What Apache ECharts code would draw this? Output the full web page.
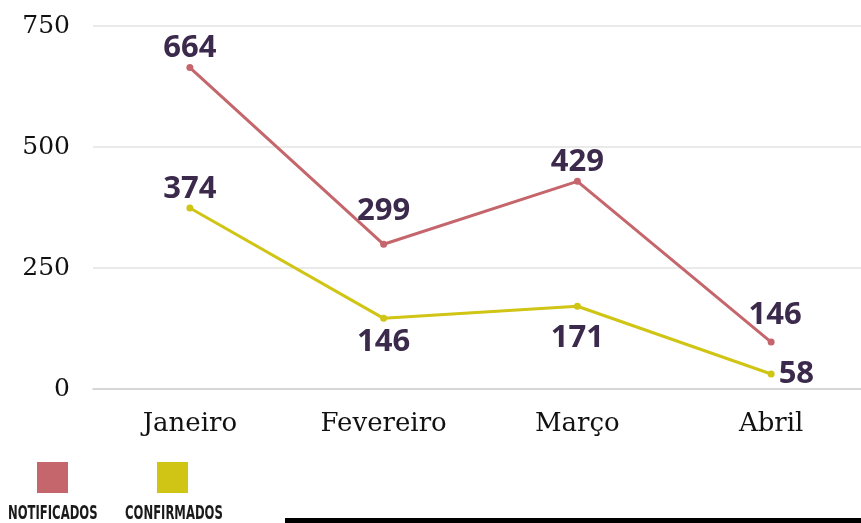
<!DOCTYPE html>
<html>
<head>
<meta charset="utf-8">
<script src="https://cdn.jsdelivr.net/npm/echarts@6/dist/echarts.min.js"></script>
<style>html,body{margin:0;padding:0;background:#fff;overflow:hidden;width:861px;height:523px}#c{width:868px;height:523px}</style>
</head>
<body>
<div id="c"></div>
<script>
const categories = ['Janeiro', 'Fevereiro', 'Março', 'Abril'];
const notificados = [664, 299, 429, 97];
const confirmados = [374, 146, 171, 31];
const notificadosLabels = ['664', '299', '429', '146'];
const confirmadosLabels = ['374', '146', '171', '58'];
const yTicks = [0, 250, 500, 750];

const RED = '#c25b63';
const YELLOW = '#d2bd00';
const LABEL = '#3b2a4b';

const labelBase = { show: true, color: LABEL, fontFamily: 'Open Sans', fontWeight: 'bold', fontSize: 31 };
const notifLabelCfg = [
  { position: 'top', distance: 0 },
  { position: 'top', distance: 14 },
  { position: 'top', distance: 0 },
  { position: 'top', distance: 8, offset: [4, 0] }
];
const confLabelCfg = [
  { position: 'top', distance: 0 },
  { position: 'bottom', distance: 5 },
  { position: 'bottom', distance: 13 },
  { position: 'right', distance: 4 }
];

function buildData(values, labels, cfg) {
  return values.map((v, i) => ({
    value: v,
    label: Object.assign({}, labelBase, cfg[i], { formatter: () => labels[i] })
  }));
}

const chart = echarts.init(document.getElementById('c'));
chart.setOption({
  animation: false,
  grid: { left: 93, top: 26, right: 0, bottom: 134, containLabel: false },
  xAxis: {
    type: 'category',
    data: categories,
    boundaryGap: true,
    axisLine: { show: true, lineStyle: { color: '#cfcfcf', width: 1.5 } },
    axisTick: { show: false },
    axisLabel: { color: '#111', fontFamily: 'DejaVu Serif', fontSize: 26, margin: 22 }
  },
  yAxis: {
    type: 'value',
    min: yTicks[0],
    max: yTicks[yTicks.length - 1],
    interval: yTicks[1] - yTicks[0],
    axisLine: { show: false },
    axisTick: { show: false },
    splitLine: { lineStyle: { color: '#e3e3e3', width: 1.5 } },
    axisLabel: { color: '#111', fontFamily: 'DejaVu Serif', fontSize: 25, margin: 23 }
  },
  legend: [
    { data: ['NOTIFICADOS'], left: 37, top: 462, padding: 0, itemWidth: 31, itemHeight: 31, icon: 'rect', itemStyle: { borderRadius: 3 }, formatter: () => '' },
    { data: ['CONFIRMADOS'], left: 157, top: 462, padding: 0, itemWidth: 31, itemHeight: 31, icon: 'rect', itemStyle: { borderRadius: 3 }, formatter: () => '' }
  ],
  series: [
    {
      name: 'NOTIFICADOS', type: 'line',
      data: buildData(notificados, notificadosLabels, notifLabelCfg),
      color: RED,
      lineStyle: { color: '#c4666c', width: 3 },
      symbol: 'circle', symbolSize: 7,
      itemStyle: { color: '#c4666c' }
    },
    {
      name: 'CONFIRMADOS', type: 'line',
      data: buildData(confirmados, confirmadosLabels, confLabelCfg),
      color: YELLOW,
      lineStyle: { color: '#d0c414', width: 3 },
      symbol: 'circle', symbolSize: 7,
      itemStyle: { color: '#d0c414' }
    }
  ],
  graphic: [
    { type: 'text', left: 8, top: 505, style: { text: 'NOTIFICADOS', fill: '#1a1a1a', font: 'bold 19px "DejaVu Sans Condensed", "DejaVu Sans"' }, scaleX: 0.68, scaleY: 1 },
    { type: 'text', left: 125, top: 505, style: { text: 'CONFIRMADOS', fill: '#1a1a1a', font: 'bold 19px "DejaVu Sans Condensed", "DejaVu Sans"' }, scaleX: 0.68, scaleY: 1 },
    { type: 'rect', left: 285, top: 518, shape: { width: 583, height: 5 }, style: { fill: '#000' } }
  ]
});
</script>
</body>
</html>
